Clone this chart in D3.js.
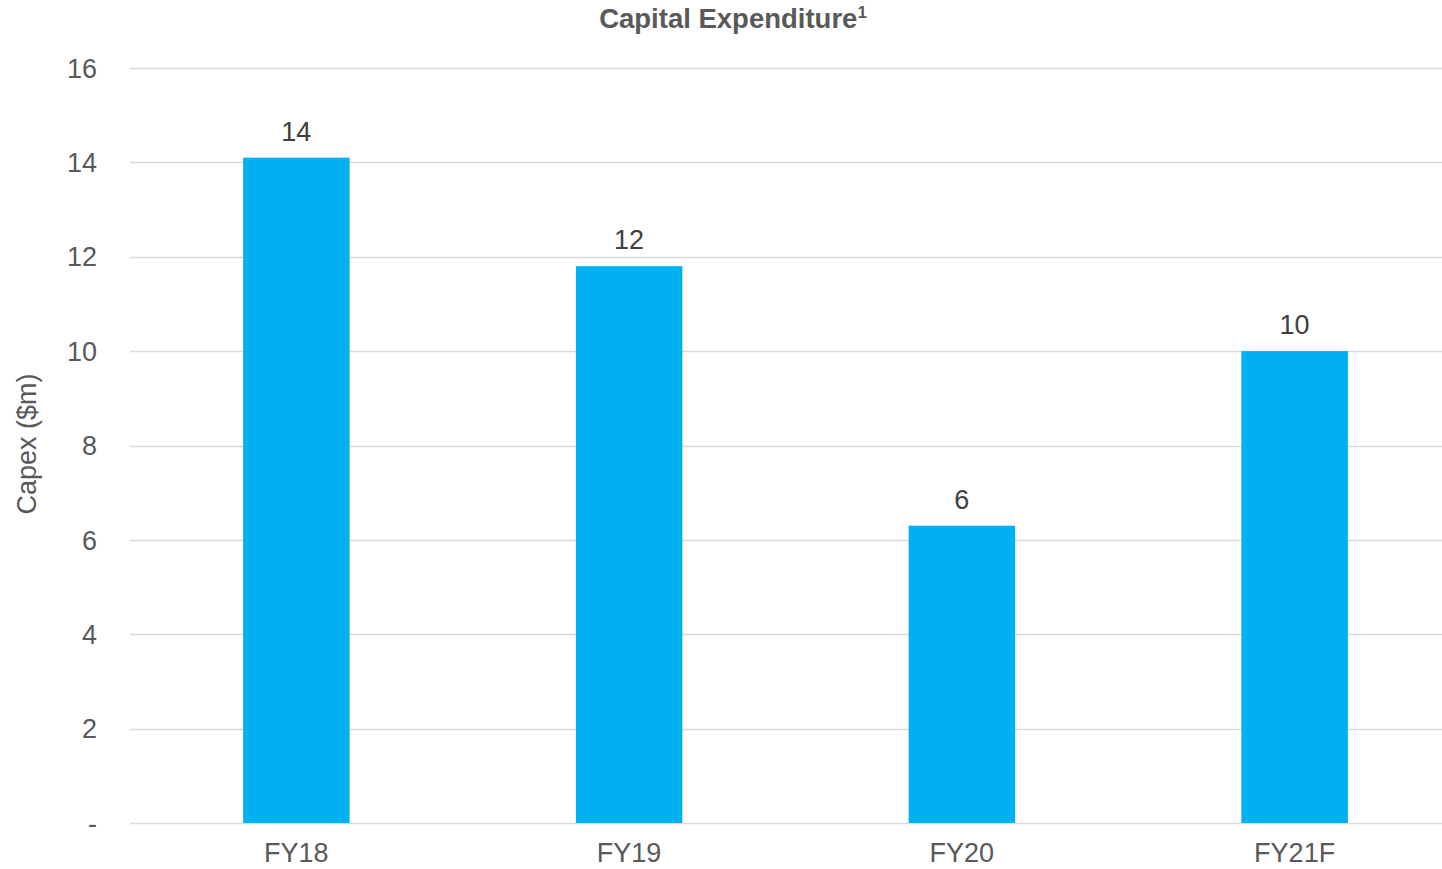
<!DOCTYPE html>
<html>
<head>
<meta charset="utf-8">
<script src="https://cdn.jsdelivr.net/npm/d3@7"></script>
<style>
  body { margin: 0; background: #fff; }
  svg { display: block; font-family: "Liberation Sans", Arial, sans-serif; }
</style>
</head>
<body>
<div id="chart"></div>
<script>
const categories = ['FY18', 'FY19', 'FY20', 'FY21F'];
const capex = [14.1, 11.8, 6.3, 10.0];
const valueLabels = ['14', '12', '6', '10'];
const yTicks = [0, 2, 4, 6, 8, 10, 12, 14, 16];

const width = 1442,
    height = 869;

const barColor = '#00b0f0',
    gridColor = '#d9d9d9',
    axisText = '#595959',
    labelText = '#404040';

const margin = { top: 68, left: 130, bottom: 46 };

const svg = d3.select('#chart').append('svg')
    .attr('width', width)
    .attr('height', height);

const x = d3.scaleBand()
    .domain(categories)
    .range([margin.left, 1461])
    .paddingInner(0.68)
    .paddingOuter(0.34);

const y = d3.scaleLinear()
    .domain([0, 16])
    .range([height - margin.bottom, margin.top]);

// gridlines
svg.append('g')
    .selectAll('line')
    .data(yTicks)
    .enter()
    .append('line')
    .attr('x1', margin.left)
    .attr('x2', width)
    .attr('y1', d => Math.round(y(d)) + 0.5)
    .attr('y2', d => Math.round(y(d)) + 0.5)
    .attr('stroke', gridColor)
    .attr('stroke-width', 1.5);

// y tick labels
svg.append('g')
    .selectAll('text')
    .data(yTicks)
    .enter()
    .append('text')
    .attr('x', 97)
    .attr('y', d => y(d))
    .attr('dy', '0.36em')
    .attr('text-anchor', 'end')
    .attr('fill', axisText)
    .style('font-size', '27px')
    .text(d => d === 0 ? '-' : d);

// bars
svg.append('g')
    .selectAll('rect')
    .data(capex)
    .enter()
    .append('rect')
    .attr('x', (d, i) => x(categories[i]))
    .attr('width', x.bandwidth())
    .attr('y', d => y(d))
    .attr('height', d => y(0) - y(d))
    .attr('fill', barColor);

// value labels
svg.append('g')
    .selectAll('text')
    .data(capex)
    .enter()
    .append('text')
    .attr('x', (d, i) => x(categories[i]) + x.bandwidth() / 2)
    .attr('y', d => y(d) - 17)
    .attr('text-anchor', 'middle')
    .attr('fill', labelText)
    .style('font-size', '27px')
    .text((d, i) => valueLabels[i]);

// x labels
svg.append('g')
    .selectAll('text')
    .data(categories)
    .enter()
    .append('text')
    .attr('x', d => x(d) + x.bandwidth() / 2)
    .attr('y', 862)
    .attr('text-anchor', 'middle')
    .attr('fill', axisText)
    .style('font-size', '27px')
    .text(d => d);

// y axis title
svg.append('text')
    .attr('transform', 'translate(36,444) rotate(-90)')
    .attr('text-anchor', 'middle')
    .attr('fill', axisText)
    .style('font-size', '27px')
    .text('Capex ($m)');

// chart title
const title = svg.append('text')
    .attr('x', 733)
    .attr('y', 28)
    .attr('text-anchor', 'middle')
    .attr('fill', axisText)
    .style('font-size', '27.5px')
    .style('font-weight', 'bold');
title.append('tspan').text('Capital Expenditure');
title.append('tspan')
    .attr('dy', -10)
    .style('font-size', '17px')
    .text('1');
</script>
</body>
</html>
